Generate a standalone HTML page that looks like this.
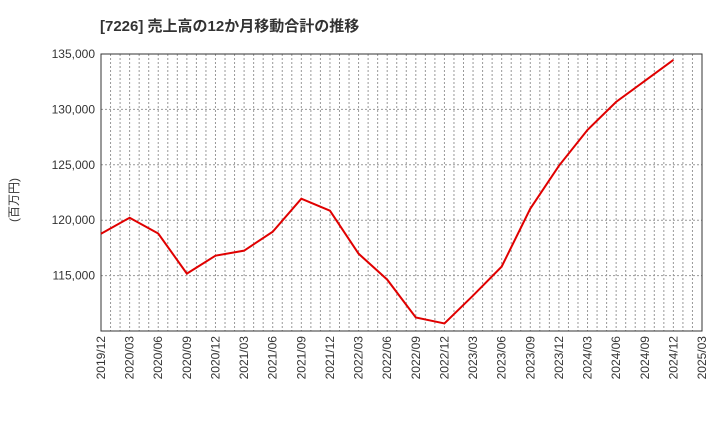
<!DOCTYPE html>
<html><head><meta charset="utf-8"><style>
body{margin:0;background:#fff;}
svg{display:block;font-family:"Liberation Sans","Noto Sans CJK JP",sans-serif;}
</style></head><body>
<svg id="c" width="720" height="440">
<text x="100" y="31" font-size="15" font-weight="bold" fill="#333">[7226]  売上高の12か月移動合計の推移</text>
<text transform="translate(18,200) rotate(-90)" font-size="12" fill="#333" text-anchor="middle">(百万円)</text>
<g id="grid"></g><g id="axes"></g><g id="series"></g>
</svg>
<script>
const categories=["2019/12","2020/03","2020/06","2020/09","2020/12","2021/03","2021/06","2021/09","2021/12","2022/03","2022/06","2022/09","2022/12","2023/03","2023/06","2023/09","2023/12","2024/03","2024/06","2024/09","2024/12","2025/03"];
const values=[118780,120220,118800,115180,116800,117250,118960,121940,120860,116980,114640,111220,110680,113200,115810,121040,124910,128150,130680,132570,134460];
const yTicks=[115000,120000,125000,130000,135000];
const yTickLabels=["115,000","120,000","125,000","130,000","135,000"];
const L=101,R=702,T=54,B=331,yMin=110000,yMax=135000;
const ns="http://www.w3.org/2000/svg";
function x(i){return L+i*(R-L)/(categories.length-1);}
function y(v){return B-(v-yMin)/(yMax-yMin)*(B-T);}
function mk(t,a,p){const e=document.createElementNS(ns,t);for(const k in a)e.setAttribute(k,a[k]);p.appendChild(e);return e;}
const g=document.getElementById('grid'),ax=document.getElementById('axes'),s=document.getElementById('series');
const nMonths=(categories.length-1)*3;
for(let m=1;m<nMonths;m++){const xx=L+m*(R-L)/nMonths;
const l=mk('line',{x1:xx,x2:xx,y1:T,y2:B,stroke:'#999','stroke-dasharray':'2,2','stroke-width':1},g);

}
yTicks.forEach((v,i)=>{
const l=mk('line',{x1:L,x2:R,y1:y(v),y2:y(v),stroke:'#999','stroke-dasharray':'2,2'},g);


const t=mk('text',{x:L-6,y:y(v)+4,'font-size':12,fill:'#333','text-anchor':'end'},ax);t.textContent=yTickLabels[i];

});
const fr=mk('rect',{x:L,y:T,width:R-L,height:B-T,fill:'none',stroke:'#333'},ax);


categories.forEach((c,i)=>{
const t=mk('text',{transform:`translate(${x(i)+4},${B+5}) rotate(-90)`,'font-size':12,fill:'#333','text-anchor':'end'},ax);t.textContent=c;

});
const p=mk('polyline',{points:values.map((v,i)=>x(i)+','+y(v)).join(' '),fill:'none',stroke:'#e00000','stroke-width':2},s);


</script>
</body></html>
